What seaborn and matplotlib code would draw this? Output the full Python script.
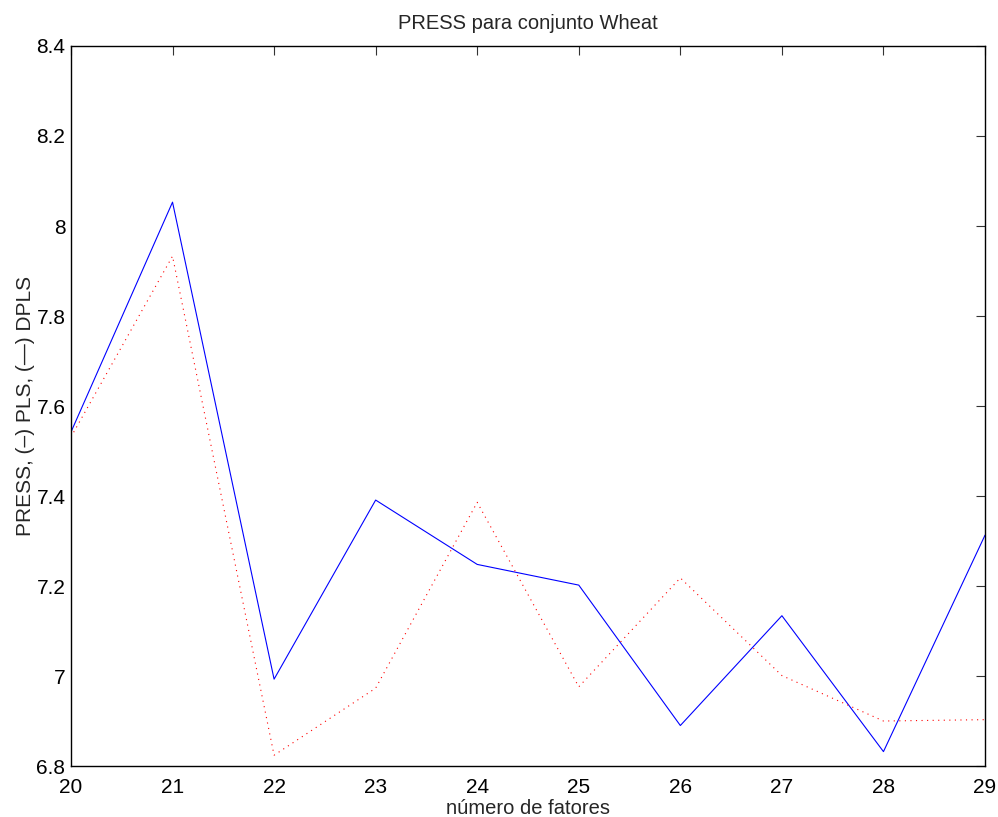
import matplotlib
matplotlib.use("Agg")
import matplotlib.pyplot as plt
import seaborn as sns
import pandas as pd

factors = [20, 21, 22, 23, 24, 25, 26, 27, 28, 29]
press_pls = [7.542, 8.053, 6.993, 7.391, 7.248, 7.202, 6.890, 7.134, 6.832, 7.313]
press_dpls = [7.531, 7.933, 6.824, 6.973, 7.386, 6.976, 7.218, 7.001, 6.900, 6.903]
yticks = [6.8, 7.0, 7.2, 7.4, 7.6, 7.8, 8.0, 8.2, 8.4]
ytick_labels = ["6.8", "7", "7.2", "7.4", "7.6", "7.8", "8", "8.2", "8.4"]

sns.set_style("white")
plt.rcParams['font.family'] = ['Liberation Sans', 'DejaVu Sans']

df_pls = pd.DataFrame({"x": factors, "y": press_pls})
df_dpls = pd.DataFrame({"x": factors, "y": press_dpls})

fig = plt.figure(figsize=(9.98, 8.17), dpi=100)
ax = fig.add_axes([0.0711, 0.0624, 0.9159, 0.8813])

sns.lineplot(data=df_pls, x="x", y="y", ax=ax, color="#0000ff", linewidth=0.8)
sns.lineplot(data=df_dpls, x="x", y="y", ax=ax, color="#ff0000", linewidth=0.8,
             linestyle=(0, (1, 4)))

ax.set_xlim(20, 29)
ax.set_ylim(6.8, 8.4)
ax.set_xticks(factors)
ax.set_xticklabels([str(f) for f in factors])
ax.set_yticks(yticks)
ax.set_yticklabels(ytick_labels)
ax.tick_params(direction="in", length=6.5, width=0.8, top=True, right=True,
               labelsize=15, color="#333333", labelcolor="black")
ax.tick_params(axis="x", pad=8.5)
ax.tick_params(axis="y", pad=4)
for s in ax.spines.values():
    s.set_visible(True)
    s.set_linewidth(1.0)
    s.set_color("black")

ax.set_title("PRESS para conjunto Wheat", fontsize=14.5, pad=12)
ax.set_xlabel("número de fatores", fontsize=14.5, labelpad=1.5)
ax.set_ylabel("PRESS, (–) PLS, (—) DPLS", fontsize=15, labelpad=1)

fig.savefig("out.png", dpi=100)
